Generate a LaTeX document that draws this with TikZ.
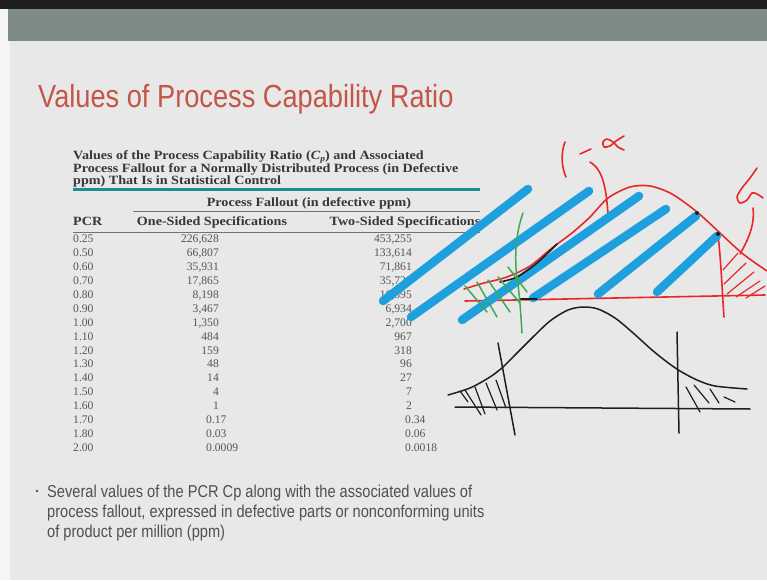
\documentclass[tikz,border=0pt]{standalone}
\usepackage{fontspec}
\setmainfont{Liberation Serif}
\newfontfamily\capserif[FakeStretch=1.12]{Liberation Serif}
\newfontfamily\slidesans[FakeStretch=0.85]{Liberation Sans}
\definecolor{slidebg}{RGB}{232,232,232}
\definecolor{margin}{RGB}{245,245,245}
\definecolor{headband}{RGB}{126,139,133}
\definecolor{titlered}{RGB}{196,86,72}
\definecolor{bodygray}{RGB}{80,80,80}
\definecolor{capgray}{RGB}{55,55,55}
\definecolor{datagray}{RGB}{85,85,85}
\definecolor{tealrule}{RGB}{30,140,145}
\definecolor{penred}{RGB}{232,40,40}
\definecolor{penblue}{RGB}{30,160,222}
\definecolor{pengreen}{RGB}{60,170,85}
\definecolor{penblack}{RGB}{30,30,30}
\tikzset{
  captext/.style={anchor=base west, inner sep=0, text=capgray, font=\capserif\bfseries\fontsize{12.6}{13}\selectfont},
  headtext/.style={anchor=base, inner sep=0, text=capgray, font=\capserif\bfseries\fontsize{12.6}{13}\selectfont},
  datatext/.style={inner sep=0, text=datagray, font=\fontsize{11.6}{12}\selectfont},
  bodytext/.style={anchor=base west, inner sep=0, text=bodygray, font=\slidesans\fontsize{17.2}{20}\selectfont},
  tablerule/.style={draw=black!55, line width=0.8},
  redpen/.style={draw=penred, line width=1.6, line cap=round, line join=round},
  bluepen/.style={draw=penblue, line width=8.5, line cap=round},
  greenpen/.style={draw=pengreen, line width=1.5, line cap=round, line join=round},
  blackpen/.style={draw=penblack, line width=1.5, line cap=round, line join=round}
}
\begin{document}
\begin{tikzpicture}[x=1pt,y=-1pt]
\useasboundingbox (0,0) rectangle (767,580);
% slide frame
\fill[margin] (0,0) rectangle (767,580);
\fill[slidebg] (10,9) rectangle (767,580);
\fill[black!88] (0,0) rectangle (767,9);
\fill[headband] (8,9) rectangle (767,41);

% title
\node[anchor=base west, inner sep=0, text=titlered,
      font=\slidesans\fontsize{32}{36}\selectfont] (title) at (38,108)
  {Values of Process Capability Ratio};

% table caption
\node[captext] (cap1) at (73,159.5)
  {Values of the Process Capability Ratio (\textit{C}\raisebox{-2pt}{\fontsize{8.5}{9}\selectfont\textit{p}}) and Associated};
\node[captext] (cap2) at (73,172)
  {Process Fallout for a Normally Distributed Process (in Defective};
\node[captext] (cap3) at (73,184.5)
  {ppm) That Is in Statistical Control};
\draw[draw=tealrule, line width=3] (73,189.5) -- (480,189.5);

% column heads
\node[headtext] (fallout) at (309,206) {Process Fallout (in defective ppm)};
\draw[tablerule] (133,211) -- (480,211);
\node[headtext, anchor=base west] (pcrhead) at (73,225.5) {PCR};
\node[headtext] (onehead) at (212,225.5) {One-Sided Specifications};
\node[headtext] (twohead) at (405,225.5) {Two-Sided Specifications};
\draw[tablerule] (73,232) -- (480,232);

% table body
\foreach \p/\a/\b [count=\i from 0] in {
    0.25/226{,}628/453{,}255, 0.50/66{,}807/133{,}614, 0.60/35{,}931/71{,}861,
    0.70/17{,}865/35{,}729, 0.80/8{,}198/16{,}395, 0.90/3{,}467/6{,}934,
    1.00/1{,}350/2{,}700, 1.10/484/967, 1.20/159/318, 1.30/48/96,
    1.40/14/27, 1.50/4/7, 1.60/1/2}{
  \node[datatext, anchor=base west] (pcr\i) at (73,{242.5+13.94*\i}) {\p};
  \node[datatext, anchor=base east] (one\i) at (219,{242.5+13.94*\i}) {\a};
  \node[datatext, anchor=base east] (two\i) at (412,{242.5+13.94*\i}) {\b};
}
\foreach \p/\a/\b [count=\i from 13] in {1.70/0.17/0.34, 1.80/0.03/0.06, 2.00/0.0009/0.0018}{
  \node[datatext, anchor=base west] (pcr\i) at (73,{242.5+13.94*\i}) {\p};
  \node[datatext, anchor=base west] (one\i) at (206,{242.5+13.94*\i}) {\a};
  \node[datatext, anchor=base west] (two\i) at (405,{242.5+13.94*\i}) {\b};
}

% bullet text
\fill[bodygray] (37,491) circle (1.3);
\node[bodytext] (body1) at (47,497)
  {Several values of the PCR Cp along with the associated values of};
\node[bodytext] (body2) at (47,517)
  {process fallout, expressed in defective parts or nonconforming units};
\node[bodytext] (body3) at (47,537)
  {of product per million (ppm)};

% ---- pen sketch: one-sided tail ----
% red curve and axis
\draw[redpen] plot[smooth] coordinates {(464,289) (484,283) (507,277) (530,266)
  (552,248) (572,233) (590,217) (608,198) (630,187) (650,186) (672,194)
  (697,212) (720,233) (743,254) (767,271)};
\draw[redpen] (465,301) -- (765,295);
\draw[redpen] (718,235) .. controls (721,260) and (722,290) .. (724,317);
% hatching of the right tail
\foreach \x/\y/\u/\v in {723/270/738/253, 724/284/746/263, 727/294/754/272,
    736/297/760/281, 746/298/765/286}
  \draw[redpen, line width=1.2] (\x,\y) -- (\u,\v);
% alpha with its pointer
\draw[redpen] plot[smooth] coordinates {(757,168) (750,178) (742,188) (737,197)
  (740,203) (747,200) (752,193) (757,194) (763,198)};
\draw[redpen] (753,208) .. controls (755,225) and (748,240) .. (740,254);
% "1 - alpha" with its pointer
\draw[redpen] (565,142) .. controls (561,152) and (561,166) .. (566,177);
\draw[redpen] (580,154) -- (591,149);
\draw[redpen] plot[smooth] coordinates {(624,136) (616,141) (610,146) (604,147)
  (603,142) (607,139) (613,142) (618,147) (624,150)};
\draw[redpen] (590,162) .. controls (600,168) and (606,180) .. (608,215);

% blue strokes
\foreach \x/\y/\u/\v in {383/301/528/189, 411/317/589/191, 462/320/639/196,
    533/298/666/209, 598/294/696/216, 657/292/717/236}
  \draw[bluepen] (\x,\y) -- (\u,\v);

% black ink where the curve was retraced
\draw[blackpen, line width=1.6] plot[smooth] coordinates {(500,282) (517,277) (537,263) (557,244)};
\fill[penblack] (697,213) circle (2);
\fill[penblack] (718,234) circle (2);
\draw[blackpen, line width=1.6] (520,299) -- (537,299);

% green limit and hatching
\draw[greenpen] (523,213) .. controls (515,235) and (514,262) .. (518,285)
  .. controls (520,300) and (521,318) .. (522,333);
\foreach \x/\y/\u/\v in {465/286/487/312, 477/282/497/317, 488/280/510/312,
    498/277/520/303, 508/267/527/292}
  \draw[greenpen] (\x,\y) -- (\u,\v);

% ---- pen sketch: two-sided tails ----
\draw[blackpen] plot[smooth] coordinates {(448,395) (470,388) (490,377) (503,367)
  (516,354) (532,338) (550,321) (568,310) (583,307) (598,309) (615,318)
  (632,332) (652,350) (667,362) (680,371) (697,380) (715,386) (747,389)};
\draw[blackpen] (455,407) -- (750,409);
\draw[blackpen] (498,343) -- (515,435);
\draw[blackpen] (677,332) -- (679,433);
\foreach \x/\y/\u/\v in {460/391/468/402, 465/390/481/415, 475/387/485/414,
    486/383/497/410, 496/380/506/408}
  \draw[blackpen, line width=1.2] (\x,\y) -- (\u,\v);
\foreach \x/\y/\u/\v in {686/387/700/412, 694/385/709/403, 710/389/719/403,
    724/397/735/402}
  \draw[blackpen, line width=1.2] (\x,\y) -- (\u,\v);
\end{tikzpicture}
\end{document}
